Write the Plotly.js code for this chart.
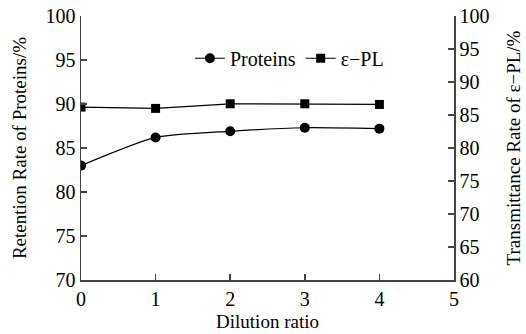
<!DOCTYPE html>
<html><head><meta charset="utf-8">
<script src="https://cdn.plot.ly/plotly-3.0.1.min.js"></script>
<style>html,body{margin:0;padding:0;background:#fff}</style>
</head><body>
<div id="chart" style="width:526px;height:334px"></div>
<script>
const dilution = [0, 1, 2, 3, 4];
const proteins = [83.0, 86.2, 86.9, 87.3, 87.2];
const epl = [86.2, 86.0, 86.7, 86.7, 86.6];
const xTicks = [0, 1, 2, 3, 4, 5];
const yLeftTicks = [70, 75, 80, 85, 90, 95, 100];
const yRightTicks = [60, 65, 70, 75, 80, 85, 90, 95, 100];

const font = {family: 'Liberation Serif', color: '#000'};
const f = s => Object.assign({size: s}, font);
const axisCommon = {
  showgrid: false, zeroline: false, showline: true, linecolor: '#444', linewidth: 1.5,
  ticks: 'inside', ticklen: 6, tickwidth: 1.5, tickcolor: '#444',
  tickfont: f(20)
};

const traces = [
  {x: dilution, y: proteins, name: 'Proteins', mode: 'lines+markers', yaxis: 'y',
   line: {color: '#000', width: 1.2, shape: 'spline', smoothing: 0.6},
   marker: {symbol: 'circle', size: 10, color: '#000'}},
  {x: dilution, y: epl, name: 'ε\u2212PL', mode: 'lines+markers', yaxis: 'y2',
   line: {color: '#000', width: 1.2},
   marker: {symbol: 'square', size: 9, color: '#000'}}
];

const layout = {
  width: 526, height: 334,
  margin: {l: 81, r: 72, t: 16, b: 54},
  paper_bgcolor: '#fff', plot_bgcolor: '#fff',
  font: font,
  showlegend: true,
  legend: {orientation: 'h', x: 0.292, y: 0.84, xanchor: 'left', yanchor: 'middle',
    font: f(20), bgcolor: 'rgba(0,0,0,0)', itemwidth: 30},
  xaxis: Object.assign({}, axisCommon, {range: [0, 5], tickvals: xTicks,
    title: {text: 'Dilution ratio', font: f(19), standoff: 6}}),
  yaxis: Object.assign({}, axisCommon, {range: [70, 100], tickvals: yLeftTicks,
    title: {text: 'Retention Rate of Proteins/%', font: f(19), standoff: 14}}),
  yaxis2: Object.assign({}, axisCommon, {range: [60, 100], tickvals: yRightTicks,
    overlaying: 'y', side: 'right',
    title: {text: 'Transmittance Rate of ε\u2212PL/%', font: f(19), standoff: 18}})
};

Plotly.newPlot('chart', traces, layout, {displayModeBar: false, staticPlot: true});
</script>
</body></html>
